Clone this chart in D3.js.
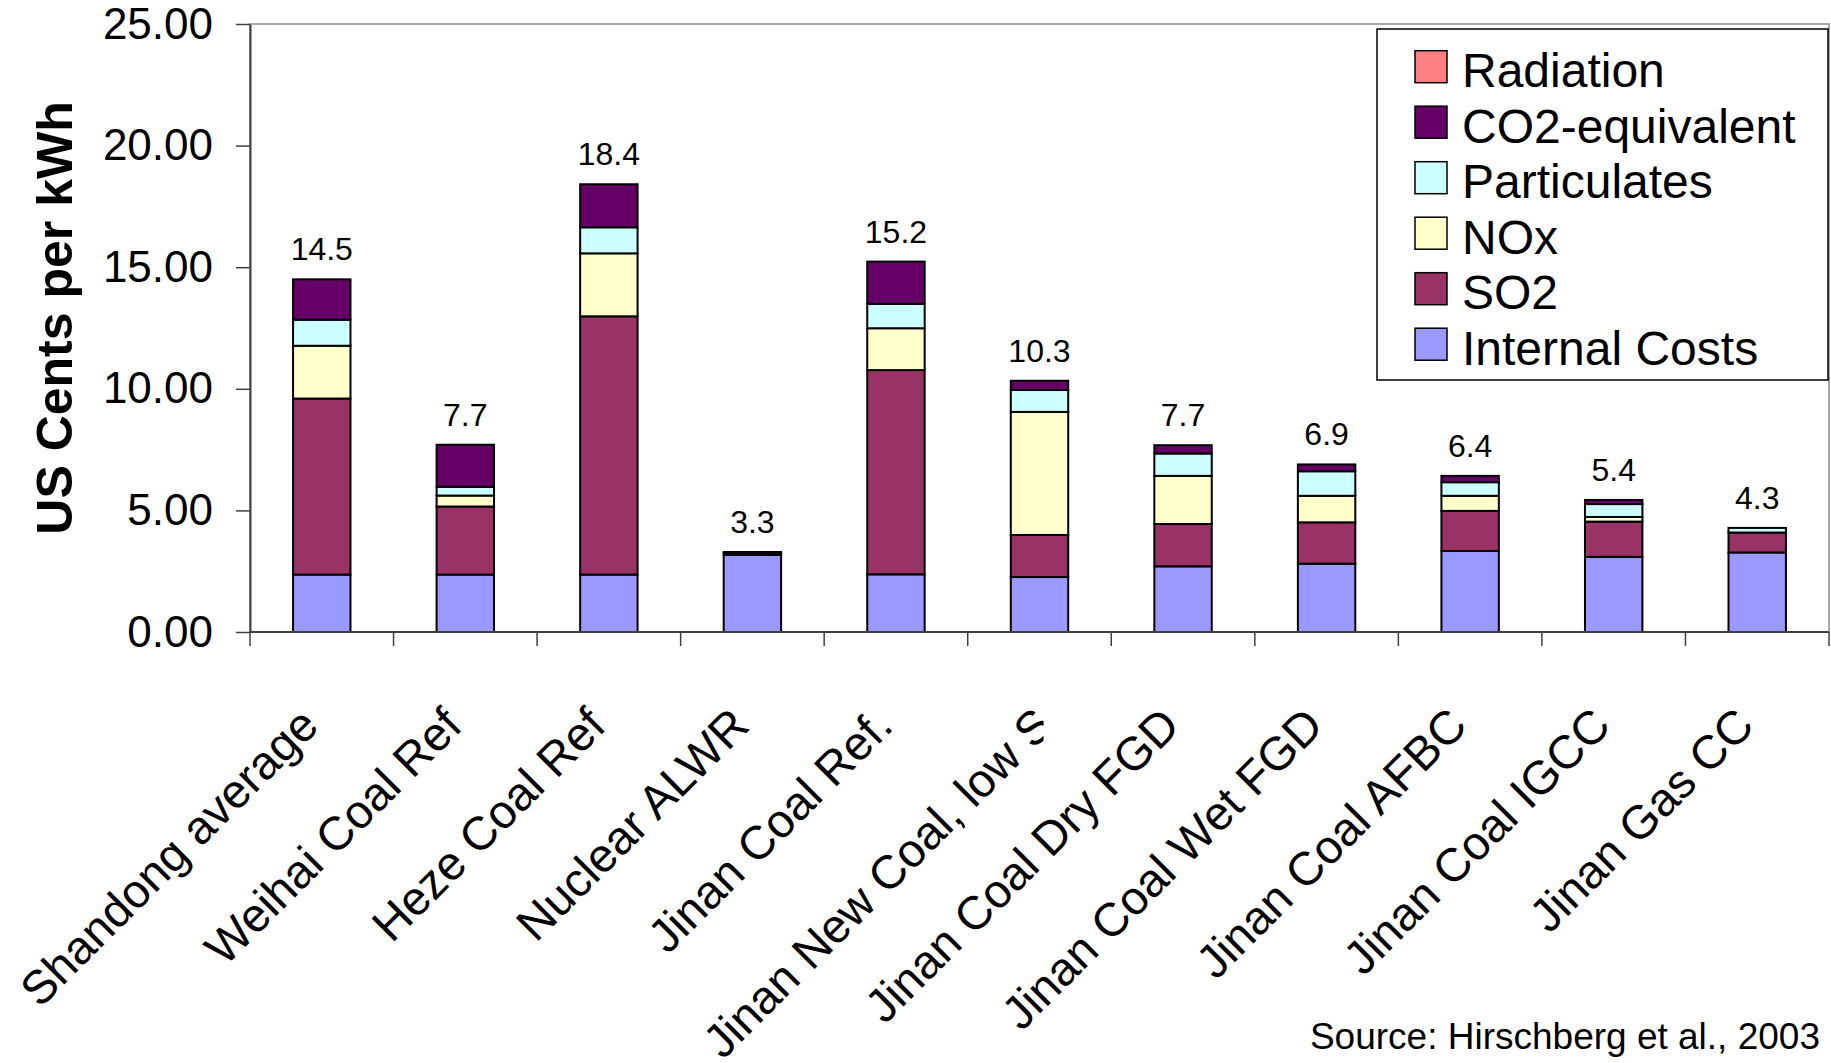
<!DOCTYPE html>
<html>
<head>
<meta charset="utf-8">
<script src="https://cdn.jsdelivr.net/npm/d3@7"></script>
<style>
  html, body { margin: 0; padding: 0; background: #fff; }
  svg { display: block; font-family: "Liberation Sans", Arial, sans-serif; }
</style>
</head>
<body>
<svg id="chart" width="1831" height="1063"></svg>
<script>
// External and internal costs of electricity generation, Shandong (US cents per kWh)
const categories = [
  "Shandong average", "Weihai Coal Ref", "Heze Coal Ref", "Nuclear ALWR",
  "Jinan Coal Ref.", "Jinan New Coal, low S", "Jinan Coal Dry FGD",
  "Jinan Coal Wet FGD", "Jinan Coal AFBC", "Jinan Coal IGCC", "Jinan Gas CC"
];
const internalCosts = [2.36, 2.36, 2.36, 3.17, 2.37, 2.26, 2.70, 2.81, 3.33, 3.09, 3.27];
const so2           = [7.24, 2.80, 10.62, 0.00, 8.40, 1.73, 1.74, 1.70, 1.65, 1.45, 0.82];
const nox           = [2.17, 0.45, 2.59, 0.00, 1.72, 5.06, 1.98, 1.09, 0.62, 0.19, 0.00];
const particulates  = [1.07, 0.36, 1.07, 0.00, 1.00, 0.90, 0.92, 1.01, 0.56, 0.53, 0.19];
const co2Equivalent = [1.66, 1.73, 1.77, 0.10, 1.74, 0.38, 0.34, 0.28, 0.26, 0.17, 0.00];
const radiation     = [0.00, 0.00, 0.00, 0.02, 0.00, 0.00, 0.00, 0.00, 0.00, 0.00, 0.00];

const seriesNames  = ["Internal Costs", "SO2", "NOx", "Particulates", "CO2-equivalent", "Radiation"];
const seriesValues = [internalCosts, so2, nox, particulates, co2Equivalent, radiation];
const seriesColors = ["#9999FF", "#993366", "#FFFFCC", "#CCFFFF", "#660066", "#FF8080"];

const yTickValues = [0, 5, 10, 15, 20, 25];
const yTitle = "US Cents per kWh";
const sourceNote = "Source: Hirschberg et al., 2003";

// ---- layout ----
const svg = d3.select("#chart");
const plot = { left: 250, right: 1829, top: 24, bottom: 632 };
const catFont = 47, tickFont = 44, valueFont = 32, legendFont = 48;

const rows = categories.map((c, i) => {
  const r = { category: c };
  seriesNames.forEach((s, k) => { r[s] = seriesValues[k][i]; });
  return r;
});
const stacked = d3.stack().keys(seriesNames)(rows);
const totals = rows.map(r => d3.sum(seriesNames, s => r[s]));

const x = d3.scaleBand().domain(categories)
  .range([plot.left, plot.right]).paddingInner(0.6).paddingOuter(0.3);
const y = d3.scaleLinear().domain([0, 25]).range([plot.bottom, plot.top]);

// plot area frame
svg.append("rect")
  .attr("x", plot.left).attr("y", plot.top)
  .attr("width", plot.right - plot.left).attr("height", plot.bottom - plot.top)
  .attr("fill", "none").attr("stroke", "#8c8c8c").attr("stroke-width", 1.5);

// stacked bars
const layers = svg.append("g").selectAll("g").data(stacked).join("g")
  .attr("fill", (d, i) => seriesColors[i]);
layers.selectAll("rect")
  .data(d => d.map((v, i) => ({ v, cat: categories[i] })).filter(o => o.v[1] - o.v[0] > 0))
  .join("rect")
  .attr("x", o => x(o.cat))
  .attr("width", x.bandwidth())
  .attr("y", o => y(o.v[1]))
  .attr("height", o => y(o.v[0]) - y(o.v[1]))
  .attr("stroke", "#000").attr("stroke-width", 2);

// totals above bars
svg.append("g").selectAll("text").data(categories).join("text")
  .attr("x", c => x(c) + x.bandwidth() / 2)
  .attr("y", (c, i) => y(totals[i]) - 19)
  .attr("text-anchor", "middle")
  .attr("font-size", valueFont)
  .attr("fill", "#000")
  .text((c, i) => d3.format(".1f")(totals[i]));

// y axis
const yAxis = svg.append("g")
  .attr("transform", `translate(${plot.left},0)`)
  .call(d3.axisLeft(y).tickValues(yTickValues).tickSize(14).tickSizeOuter(0)
    .tickPadding(23).tickFormat(d3.format(".2f")));
yAxis.select(".domain").attr("stroke", "#404040").attr("stroke-width", 2);
yAxis.selectAll(".tick line").attr("stroke", "#404040").attr("stroke-width", 1.5);
yAxis.selectAll(".tick text")
  .attr("font-size", tickFont).attr("font-family", "Liberation Sans, Arial, sans-serif")
  .attr("fill", "#000");

// x axis line with ticks between categories
const xAxis = svg.append("g");
xAxis.append("line")
  .attr("x1", plot.left).attr("x2", plot.right)
  .attr("y1", plot.bottom).attr("y2", plot.bottom)
  .attr("stroke", "#404040").attr("stroke-width", 2);
const boundaries = d3.range(categories.length + 1).map(i => plot.left + i * x.step());
xAxis.selectAll("line.tick").data(boundaries).join("line")
  .attr("class", "tick")
  .attr("x1", d => d).attr("x2", d => d)
  .attr("y1", plot.bottom).attr("y2", plot.bottom + 14)
  .attr("stroke", "#404040").attr("stroke-width", 1.5);

// rotated category labels, ending under each bar;
// a label too long for the label area is shifted along and clipped at its bar's centre line
const defs = svg.append("defs");
const labelBase = plot.bottom + 96;
const maxLabelLen = 9.6 * catFont;
categories.forEach((c, i) => {
  const outer = svg.append("g");
  const inner = outer.append("g");
  const t = inner.append("text")
    .attr("text-anchor", "end")
    .attr("font-size", catFont)
    .attr("fill", "#000")
    .text(c);
  const len = t.node().getComputedTextLength();
  const centre = x(c) + x.bandwidth() / 2;
  let ax = centre - 1;
  if (len > maxLabelLen) {
    ax = centre + 16;
    const id = "clip-label-" + i;
    defs.append("clipPath").attr("id", id)
      .append("rect")
      .attr("x", 0).attr("y", plot.bottom + 20)
      .attr("width", centre + 4).attr("height", 1063 - plot.bottom);
    outer.attr("clip-path", `url(#${id})`);
  }
  inner.attr("transform", `translate(${ax},${labelBase}) rotate(-45)`);
});

// y axis title
svg.append("text")
  .attr("transform", `translate(72,318) rotate(-90)`)
  .attr("text-anchor", "middle")
  .attr("font-size", 50).attr("font-weight", "bold")
  .attr("fill", "#000")
  .text(yTitle);

// legend (top of the stack first)
const legend = svg.append("g");
legend.append("rect")
  .attr("x", 1377).attr("y", 29).attr("width", 451).attr("height", 351)
  .attr("fill", "#fff").attr("stroke", "#000").attr("stroke-width", 1.5);
const legendOrder = d3.range(seriesNames.length).reverse();
const items = legend.selectAll("g.item").data(legendOrder).join("g")
  .attr("class", "item")
  .attr("transform", (k, j) => `translate(1415,${50.7 + j * 55.5})`);
items.append("rect")
  .attr("width", 32).attr("height", 32)
  .attr("fill", k => seriesColors[k])
  .attr("stroke", "#000").attr("stroke-width", 1.5);
items.append("text")
  .attr("x", 47).attr("y", 36.5)
  .attr("font-size", legendFont).attr("fill", "#000")
  .text(k => seriesNames[k]);

// source note
svg.append("text")
  .attr("x", 1820).attr("y", 1049)
  .attr("text-anchor", "end")
  .attr("font-size", 37).attr("fill", "#000")
  .text(sourceNote);
</script>
</body>
</html>
